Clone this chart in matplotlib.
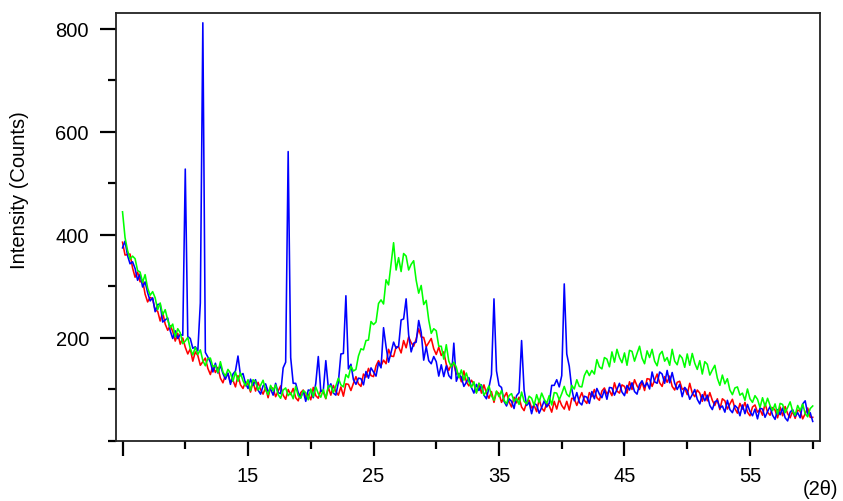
import numpy as np
import matplotlib
matplotlib.use("Agg")
import matplotlib.pyplot as plt

plt.rcParams['font.family'] = ['Liberation Sans', 'DejaVu Sans']

# 2-theta grid, 0.2 deg step from 5 to 60
two_theta = np.round(np.arange(5, 60.001, 0.2), 1)

red = [
    386, 361, 362, 363, 336, 318, 328, 309, 312, 285,
    270, 279, 276, 254, 252, 233, 250, 227, 215, 224,
    213, 194, 209, 188, 200, 182, 169, 179, 155, 173,
    166, 147, 154, 161, 141, 129, 146, 133, 143, 122,
    113, 128, 131, 114, 118, 105, 127, 109, 102, 115,
    110, 95, 115, 97, 114, 100, 91, 104, 84, 105,
    102, 86, 97, 107, 89, 81, 100, 90, 102, 84,
    78, 94, 99, 85, 91, 80, 104, 88, 83, 99,
    95, 82, 104, 89, 108, 96, 89, 105, 87, 111,
    110, 98, 112, 125, 111, 106, 130, 124, 141, 127,
    125, 146, 156, 146, 157, 150, 178, 165, 164, 183,
    183, 171, 195, 181, 202, 191, 184, 198, 218, 202,
    201, 183, 191, 199, 179, 168, 182, 166, 173, 149,
    137, 149, 149, 130, 131, 115, 136, 115, 107, 118,
    111, 94, 112, 93, 109, 93, 83, 96, 75, 96,
    92, 75, 85, 94, 76, 66, 85, 74, 85, 66,
    59, 75, 79, 64, 69, 57, 81, 64, 58, 73,
    69, 56, 77, 62, 81, 69, 62, 77, 60, 83,
    82, 69, 82, 94, 79, 73, 94, 86, 100, 84,
    79, 97, 103, 91, 98, 88, 113, 97, 93, 109,
    106, 93, 115, 100, 119, 107, 100, 115, 98, 121,
    120, 106, 118, 130, 113, 106, 125, 114, 126, 106,
    99, 114, 116, 100, 103, 90, 112, 93, 86, 99,
    93, 77, 96, 78, 94, 79, 69, 82, 61, 82,
    78, 62, 72, 81, 63, 54, 73, 62, 75, 56,
    49, 66, 70, 56, 61, 50, 73, 56, 50, 65,
    60, 45, 66, 49, 67, 53, 45, 58, 44, 60,
    58, 43, 53, 64, 46, 46,
]

blue = [
    375, 388, 360, 344, 348, 335, 312, 324, 299, 309,
    288, 272, 278, 251, 265, 266, 231, 235, 239, 214,
    199, 214, 199, 207, 205, 528, 203, 199, 180, 183,
    175, 268, 812, 172, 163, 153, 134, 151, 132, 147,
    131, 120, 132, 110, 130, 136, 165, 127, 131, 112,
    102, 120, 108, 119, 99, 91, 107, 111, 96, 101,
    89, 112, 94, 92, 142, 153, 562, 162, 112, 112,
    94, 84, 97, 77, 99, 98, 84, 112, 164, 96,
    98, 156, 103, 111, 93, 89, 114, 169, 170, 282,
    140, 149, 119, 110, 122, 121, 109, 135, 122, 142,
    134, 126, 152, 142, 220, 183, 153, 172, 192, 180,
    184, 235, 237, 276, 206, 173, 190, 192, 234, 211,
    157, 183, 156, 150, 164, 154, 126, 148, 125, 146,
    127, 121, 190, 116, 130, 124, 106, 114, 123, 104,
    93, 110, 98, 109, 89, 82, 104, 129, 276, 136,
    108, 104, 77, 68, 82, 77, 63, 88, 94, 195,
    99, 69, 75, 53, 73, 70, 54, 65, 78, 66,
    73, 108, 108, 119, 105, 127, 305, 169, 145, 101,
    78, 94, 75, 70, 87, 85, 73, 96, 82, 102,
    91, 84, 99, 81, 104, 103, 89, 100, 112, 95,
    88, 108, 99, 113, 96, 91, 110, 117, 105, 113,
    101, 134, 115, 112, 134, 130, 112, 137, 113, 133,
    112, 100, 110, 86, 104, 98, 81, 90, 100, 81,
    72, 90, 78, 89, 69, 61, 76, 79, 64, 68,
    56, 79, 61, 55, 69, 64, 49, 70, 53, 71,
    57, 49, 62, 43, 64, 62, 46, 57, 67, 50,
    42, 61, 51, 64, 45, 39, 56, 61, 48, 55,
    45, 72, 78, 52, 55, 38,
]

green = [
    445, 395, 370, 353, 359, 354, 331, 328, 308, 323,
    297, 283, 290, 278, 255, 268, 245, 255, 235, 220,
    227, 202, 218, 210, 189, 194, 201, 179, 167, 182,
    168, 177, 156, 146, 160, 161, 144, 147, 133, 154,
    134, 126, 139, 132, 116, 134, 116, 132, 117, 107,
    119, 98, 119, 115, 99, 108, 118, 99, 90, 108,
    97, 109, 90, 83, 99, 103, 88, 94, 82, 106,
    88, 83, 98, 94, 80, 101, 86, 105, 92, 85,
    100, 83, 107, 107, 94, 107, 122, 109, 105, 129,
    123, 145, 136, 139, 165, 179, 177, 195, 196, 232,
    226, 231, 267, 274, 266, 313, 303, 344, 385, 332,
    356, 329, 364, 359, 332, 343, 350, 312, 287, 302,
    265, 273, 235, 209, 218, 214, 184, 184, 159, 187,
    155, 144, 153, 143, 123, 138, 118, 132, 115, 104,
    115, 93, 112, 107, 89, 97, 107, 88, 79, 97,
    86, 98, 79, 72, 88, 92, 77, 83, 71, 95,
    77, 72, 87, 83, 69, 90, 75, 93, 81, 73,
    88, 70, 94, 93, 80, 92, 106, 91, 86, 108,
    101, 119, 106, 105, 127, 137, 127, 137, 130, 158,
    144, 140, 162, 159, 144, 173, 153, 178, 162, 152,
    171, 147, 176, 174, 155, 170, 184, 161, 150, 175,
    162, 178, 155, 146, 168, 174, 155, 162, 147, 178,
    155, 148, 167, 161, 143, 169, 147, 170, 151, 139,
    156, 130, 154, 149, 128, 138, 147, 122, 108, 128,
    111, 121, 99, 90, 103, 105, 89, 93, 79, 101,
    82, 75, 88, 81, 65, 84, 67, 83, 69, 59,
    72, 52, 73, 71, 55, 65, 76, 58, 50, 69,
    59, 72, 53, 47, 63, 68,
]

x_major = [5, 15, 25, 35, 45, 55]
x_labels = ['', '15', '25', '35', '45', '55']
x_minor = [10, 20, 30, 40, 50, 60]
y_major = [200, 400, 600, 800]
y_minor = [0, 100, 300, 500, 700]

fig = plt.figure(figsize=(8.43, 5.02), dpi=100)
ax = fig.add_axes([116 / 843, 60 / 502, 704 / 843, 428 / 502])

ax.plot(two_theta, red, color='#ff0000', lw=1.15)
ax.plot(two_theta, blue, color='#0000ff', lw=1.15)
ax.plot(two_theta, green, color='#00ff00', lw=1.15)

ax.set_xlim(4.48, 60.58)
ax.set_ylim(0, 831)

ax.set_xticks(x_major)
ax.set_xticklabels(x_labels)
ax.set_xticks(x_minor, minor=True)
ax.set_yticks(y_major)
ax.set_yticks(y_minor, minor=True)

for s in ax.spines.values():
    s.set_linewidth(1.3)
    s.set_color('#222222')

ax.tick_params(axis='x', which='major', direction='out', length=11, width=1.6,
               labelsize=14.5, pad=7)
ax.tick_params(axis='x', which='minor', direction='out', length=5.5, width=1.6)
ax.tick_params(axis='y', which='major', direction='out', length=11.5, width=1.6,
               labelsize=14.5, pad=8)
ax.tick_params(axis='y', which='minor', direction='out', length=6, width=1.6)

fig.text(20 / 843, 1 - 190 / 502, 'Intensity (Counts)', rotation=90,
         ha='center', va='center', fontsize=14.5)
fig.text(803 / 843, 1 - 490 / 502, '(2θ)', ha='left', va='center', fontsize=14.5)

fig.savefig('out.png', dpi=100)
